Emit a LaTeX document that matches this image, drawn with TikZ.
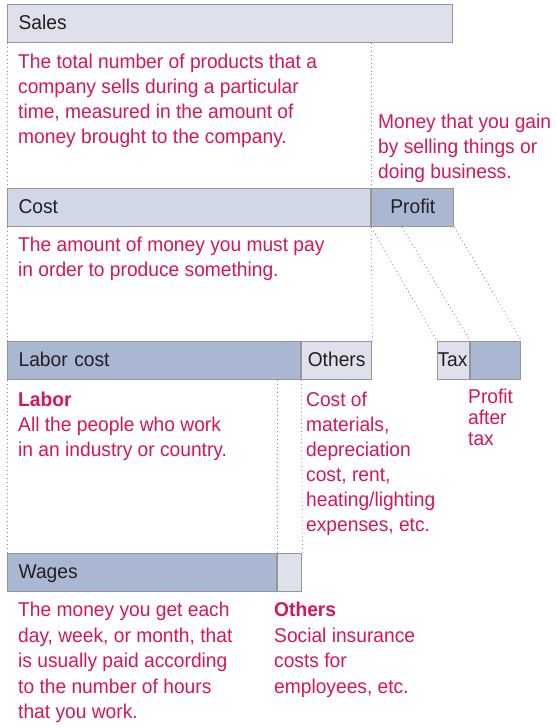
\documentclass[tikz,border=0pt]{standalone}
\usepackage{fontspec}
\setmainfont{Liberation Sans}[FakeStretch=0.96]
\usetikzlibrary{calc}
\definecolor{rosa}{RGB}{215,22,88}
\definecolor{ink}{RGB}{35,31,32}
\definecolor{edge}{RGB}{150,150,150}
\definecolor{pale}{RGB}{222,225,235}
\definecolor{mist}{RGB}{209,215,230}
\definecolor{steel}{RGB}{169,183,211}
\definecolor{dots}{RGB}{140,140,140}
\tikzset{
  bar/.style={draw=edge, line width=1.2pt, anchor=north west, minimum height=38pt,
    inner xsep=11pt, inner ysep=0pt, text height=15pt, text depth=3pt,
    text=ink, font=\fontsize{20}{24}\selectfont, align=left},
  desc/.style={text=rosa, anchor=north west, align=left, inner sep=0pt,
    font=\fontsize{20}{25}\selectfont},
  guide/.style={draw=dots, line width=0.9pt, dash pattern=on 0.9pt off 3pt},
}

\begin{document}
\begin{tikzpicture}[x=1pt,y=-1pt]
\useasboundingbox (0,0) rectangle (556,728);
%% top row
\node[bar, fill=pale, text width=423pt] (sales) at (7,4) {Sales};
\node[desc] (salestxt) at (18,54) {The total number of products that a\\company sells during a particular\\time, measured in the amount of\\money brought to the company.};
\node[desc] (gaintxt) at (378,114) {Money that you gain\\by selling things or\\doing business.};
%% second row
\node[bar, fill=mist, text width=341pt] (cost) at (7,188) {Cost};
\node[bar, fill=steel, text width=60pt, align=center] (profit) at (cost.north east) {Profit};
\node[desc] (costtxt) at (18,237) {The amount of money you must pay\\in order to produce something.};
%% third row
\node[bar, fill=steel, text width=271pt] (labor) at (7,341) {Labor cost};
\node[bar, fill=pale, text width=58pt, inner xsep=6pt] (others) at (labor.north east) {Others};
\node[bar, fill=pale, text width=32pt, inner xsep=0pt] (tax) at (437,341) {Tax};
\node[bar, fill=steel, text width=50pt, inner xsep=0pt] (net) at (tax.north east) {};
\node[desc] (labortxt) at (18,392) {\textbf{Labor}\\All the people who work\\in an industry or country.};
\node[desc] (otherstxt) at (306,392) {Cost of\\materials,\\depreciation\\cost, rent,\\heating/lighting\\expenses, etc.};
\node[desc, font=\fontsize{20}{21}\selectfont] (nettxt) at (468,389) {Profit\\after\\tax};
%% bottom row
\node[bar, fill=steel, text width=247pt] (wages) at (7,553) {Wages};
\node[bar, fill=pale, text width=24pt, inner xsep=0pt] (extra) at (wages.north east) {};
\node[desc, font=\fontsize{20}{25.5}\selectfont] (wagestxt) at (18,602) {The money you get each\\day, week, or month, that\\is usually paid according\\to the number of hours\\that you work.};
\node[desc, font=\fontsize{20}{25.5}\selectfont] (extratxt) at (274,602) {\textbf{Others}\\Social insurance\\costs for\\employees, etc.};
%% dotted guides
\coordinate (split) at ($(profit.south west)!0.37!(profit.south east)$);
\draw[guide] (sales.south west) -- (cost.north west);
\draw[guide] (sales.south -| cost.north east) -- (cost.north east);
\draw[guide] (cost.south west) -- (labor.north west);
\draw[guide] (cost.south east) -- (others.north east);
\draw[guide] (profit.south west) -- (tax.north west);
\draw[guide] (split) -- (tax.north east);
\draw[guide] (profit.south east) -- (net.north east);
\draw[guide] (labor.south west) -- (wages.north west);
\draw[guide] (wages.north east |- labor.south) -- (wages.north east);
\draw[guide] (others.south west) -- (extra.north east);
\end{tikzpicture}
\end{document}
